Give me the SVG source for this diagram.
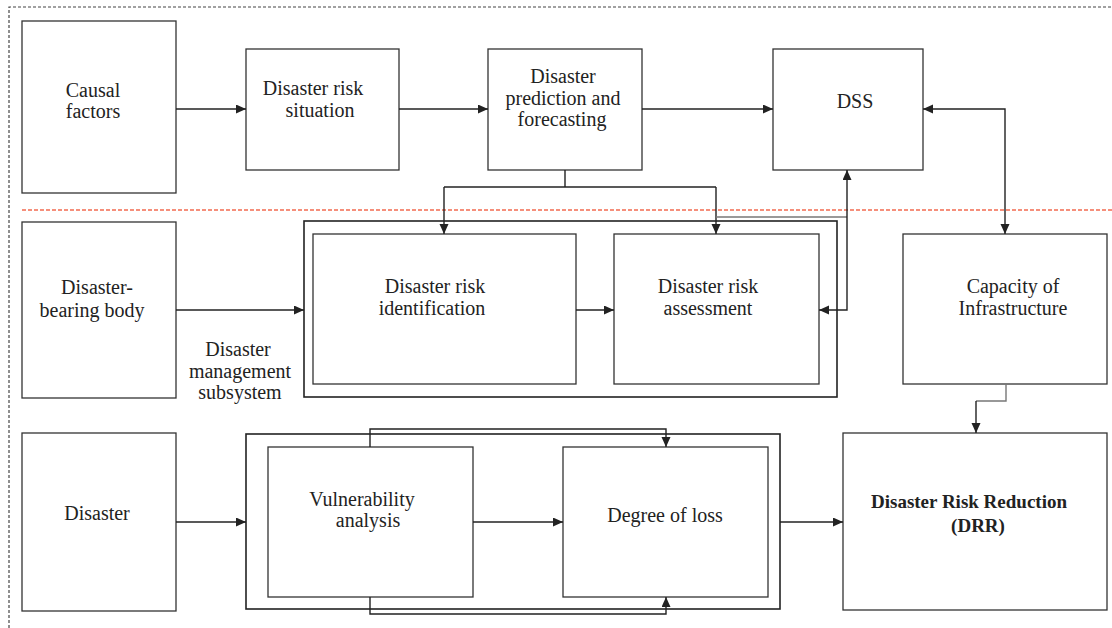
<svg xmlns="http://www.w3.org/2000/svg" width="1112" height="628" viewBox="0 0 1112 628">
<style>
.box{fill:#fff;stroke:#333;stroke-width:1.3}
.frame{fill:none;stroke:#222;stroke-width:1.6}
.t{font-family:"Liberation Serif","Times New Roman",serif;font-size:20px;fill:#222;text-anchor:middle}
.b{font-weight:bold;font-size:19px}
.c{fill:none;stroke:#222;stroke-width:1.4}
.g{fill:none;stroke:#777;stroke-width:1.4}
</style>
<defs>
<marker id="ah" markerUnits="userSpaceOnUse" markerWidth="11" markerHeight="10" refX="10" refY="4.5" orient="auto-start-reverse">
<path d="M0,0 L10,4.5 L0,9 z" fill="#222"/>
</marker>
</defs>
<rect width="1112" height="628" fill="#fff"/>
<path d="M9,628 V7 H1112" fill="none" stroke="#444" stroke-width="1.2" stroke-dasharray="3,2"/>
<line x1="22" y1="210" x2="1112" y2="210" stroke="#f26b50" stroke-width="1.5" stroke-dasharray="4,2"/>

<g id="causal"><rect class="box" x="22" y="21" width="154" height="172"/>
<text class="t" x="93" y="97">Causal</text><text class="t" x="93" y="118">factors</text></g>
<g id="situation"><rect class="box" x="246" y="49" width="153" height="121"/>
<text class="t" x="313" y="95">Disaster risk</text><text class="t" x="320" y="117">situation</text></g>
<g id="prediction"><rect class="box" x="488" y="49" width="154" height="121"/>
<text class="t" x="563" y="83">Disaster</text><text class="t" x="563" y="105">prediction and</text><text class="t" x="562" y="126">forecasting</text></g>
<g id="dss"><rect class="box" x="773" y="49" width="150" height="121"/>
<text class="t" x="855" y="108">DSS</text></g>
<g id="bearing"><rect class="box" x="22" y="222" width="154" height="176"/>
<text class="t" x="97" y="294">Disaster-</text><text class="t" x="92" y="317">bearing body</text></g>
<g id="subsystem-label"><text class="t" x="238" y="356">Disaster</text><text class="t" x="240" y="378" font-size="19">management</text><text class="t" x="240" y="399" font-size="19">subsystem</text></g>
<g id="subsystem"><rect class="frame" x="304" y="221" width="533" height="176"/></g>
<g id="identification"><rect class="box" x="313" y="234" width="263" height="150"/>
<text class="t" x="435" y="293">Disaster risk</text><text class="t" x="432" y="315">identification</text></g>
<g id="assessment"><rect class="box" x="614" y="234" width="205" height="150"/>
<text class="t" x="708" y="293">Disaster risk</text><text class="t" x="708" y="315">assessment</text></g>
<g id="capacity"><rect class="box" x="903" y="234" width="204" height="150"/>
<text class="t" x="1013" y="293">Capacity of</text><text class="t" x="1013" y="315">Infrastructure</text></g>
<g id="disaster"><rect class="box" x="22" y="433" width="154" height="178"/>
<text class="t" x="97" y="520">Disaster</text></g>
<g id="loss-frame"><rect class="frame" x="246" y="434" width="534" height="175"/></g>
<g id="vulnerability"><rect class="box" x="268" y="447" width="205" height="150"/>
<text class="t" x="362" y="506">Vulnerability</text><text class="t" x="368" y="527">analysis</text></g>
<g id="loss"><rect class="box" x="563" y="447" width="205" height="150"/>
<text class="t" x="665" y="522">Degree of loss</text></g>
<g id="drr"><rect class="box" x="843" y="433" width="264" height="177"/>
<text class="t b" x="969" y="508">Disaster Risk Reduction</text><text class="t b" x="978" y="532">(DRR)</text></g>

<g id="connectors">
<path class="c" d="M176,109 H246" marker-end="url(#ah)"/>
<path class="c" d="M399,109 H488" marker-end="url(#ah)"/>
<path class="c" d="M642,109 H773" marker-end="url(#ah)"/>
<path class="c" d="M923,109 H1005 V234" marker-start="url(#ah)" marker-end="url(#ah)"/>
<path class="c" d="M565,170 V187"/>
<path class="c" d="M444,187 H716"/>
<path class="c" d="M444,187 V234" marker-end="url(#ah)"/>
<path class="c" d="M716,187 V234" marker-end="url(#ah)"/>
<path class="g" d="M716,217 H847"/>
<path class="c" d="M819,310 H847 V170" marker-start="url(#ah)" marker-end="url(#ah)"/>
<path class="c" d="M176,310 H304" marker-end="url(#ah)"/>
<path class="c" d="M576,310 H614" marker-end="url(#ah)"/>
<path class="g" d="M1006,384 V401 H976"/>
<path class="c" d="M976,401 V433" marker-end="url(#ah)"/>
<path class="c" d="M176,522 H246" marker-end="url(#ah)"/>
<path class="c" d="M473,522 H563" marker-end="url(#ah)"/>
<path class="c" d="M780,522 H843" marker-end="url(#ah)"/>
<path class="c" d="M370,447 V429 H666 V447" marker-end="url(#ah)"/>
<path class="c" d="M370,597 V614 H666 V597" marker-end="url(#ah)"/>
</g>
</svg>
